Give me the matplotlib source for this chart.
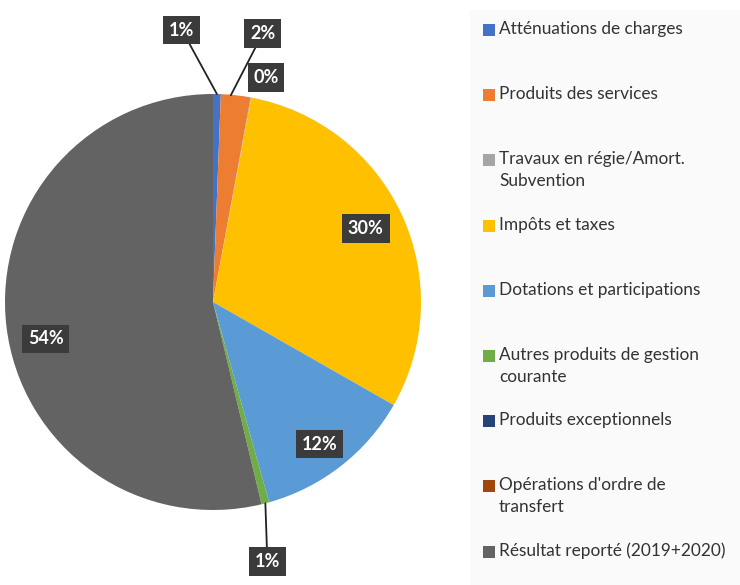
import numpy as np
import matplotlib
matplotlib.use("Agg")
import matplotlib.pyplot as plt
from matplotlib.patches import Rectangle

plt.rcParams["font.family"] = ["Lato", "DejaVu Sans"]

# budget shares (%)
categories = [
    "Atténuations de charges",
    "Produits des services",
    "Travaux en régie/Amort.\nSubvention",
    "Impôts et taxes",
    "Dotations et participations",
    "Autres produits de gestion\ncourante",
    "Produits exceptionnels",
    "Opérations d'ordre de\ntransfert",
    "Résultat reporté (2019+2020)",
]
shares = [0.6, 2.3, 0.05, 30.3, 12.4, 0.6, 0.0, 0.0, 53.75]
colors = ["#4472C4", "#ED7D31", "#A5A5A5", "#FFC000", "#5B9BD5",
          "#70AD47", "#264478", "#9E480E", "#636363"]

W, H = 740, 585
CX, CY, R = 213, H - 302, 208

fig = plt.figure(figsize=(W / 100, H / 100), dpi=100)
ax = fig.add_axes([0, 0, 1, 1])

# pale legend panel
ax.add_patch(Rectangle((470, 0), W - 470, H - 10, facecolor="#fafafa",
                       edgecolor="none", zorder=0))

wedges, _ = ax.pie(shares, colors=colors, startangle=90, counterclock=False,
                   center=(CX, CY), radius=R, frame=True,
                   wedgeprops=dict(linewidth=0))
ax.set_xlim(0, W)
ax.set_ylim(0, H)
ax.set_aspect("equal")
ax.axis("off")

box = dict(boxstyle="square,pad=0.32", facecolor="#3b3b3b", edgecolor="none")
lbl_kw = dict(color="white", fontsize=13, fontweight="bold", ha="center",
              va="center", bbox=box, zorder=5)


def wedge_point(w, frac):
    ang = np.deg2rad((w.theta1 + w.theta2) / 2)
    return CX + frac * R * np.cos(ang), CY + frac * R * np.sin(ang)


def pct(v):
    return f"{int(round(v))}%"


# big slices: label inside (fraction of radius, extra y shift)
inside = {3: (0.81, 3), 4: (0.83, -6), 8: (0.81, -17)}
for i, (frac, dy) in inside.items():
    x, y = wedge_point(wedges[i], frac)
    ax.text(x, y + dy, pct(shares[i]), **lbl_kw)

# small slices: labels outside with leader lines
line = dict(arrowstyle="-", color="#222222", lw=1.3, shrinkA=0, shrinkB=0)
x, y = wedge_point(wedges[0], 1.0)
ax.annotate(pct(shares[0]), xy=(x, y), xytext=(x - 35, y + 64),
            arrowprops=line, **lbl_kw)
x, y = wedge_point(wedges[1], 1.0)
ax.annotate(pct(shares[1]), xy=(x - 5, y), xytext=(x + 27, y + 62),
            arrowprops=line, **lbl_kw)
x, y = wedge_point(wedges[2], 1.0)
ax.text(x + 15, y + 20, pct(shares[2]), **lbl_kw)
x, y = wedge_point(wedges[5], 1.0)
ax.annotate(pct(shares[5]), xy=(x, y), xytext=(x + 2, y - 58),
            arrowprops=line, **lbl_kw)

# legend drawn as a list
for i, (name, c) in enumerate(zip(categories, colors)):
    ty = H - (30 + i * 65.2)
    ax.add_patch(Rectangle((483, ty - 6), 12, 12, facecolor=c,
                           edgecolor="none", zorder=3))
    ax.text(499, ty + 9, name, fontsize=12.4, color="#333333", ha="left",
            va="top", linespacing=1.45, zorder=3)

fig.savefig("out.png", dpi=100)
